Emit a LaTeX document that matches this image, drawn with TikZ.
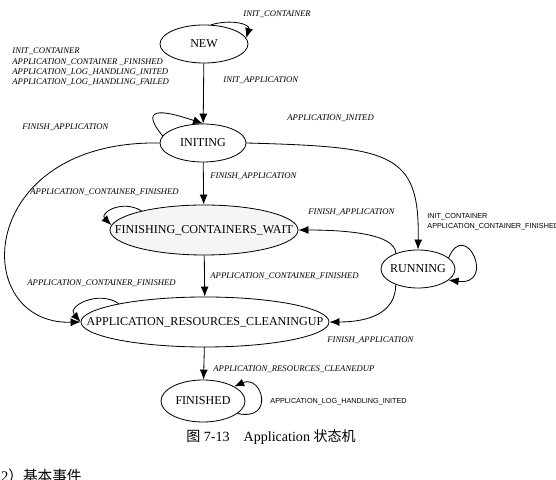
\documentclass[tikz,border=0pt]{standalone}
\usepackage{fontspec}
\setmainfont{Liberation Serif}
\setsansfont{Liberation Sans}
\newfontfamily\cjk{Noto Sans CJK SC}
\usetikzlibrary{shapes.geometric,arrows.meta}

\begin{document}
\begin{tikzpicture}[
          x=0.03cm, y=0.03cm,
          state/.style = {draw, ellipse, inner sep=0pt, font=\fontsize{10.3}{12}\selectfont},
          event/.style = {anchor=west, inner sep=0pt, align=left, font=\fontsize{7.4}{8.8}\selectfont\itshape},
          eventsf/.style = {anchor=west, inner sep=0pt, align=left, font=\fontsize{6.2}{8.4}\selectfont\sffamily},
          >={Latex[length=3mm,width=2.4mm]},
          line width=0.7pt
        ]
        \useasboundingbox (0,0) rectangle (556,480);

        \node[state, minimum width=2.64cm, minimum height=1.14cm] (new) at (204,436) {\makebox[0pt]{NEW}};
        \node[state, minimum width=2.58cm, minimum height=1.14cm] (initing) at (203,337) {\makebox[0pt]{INITING}};
        \node[state, fill=gray!8, minimum width=5.64cm, minimum height=1.5cm] (fcw) at (204,250) {\makebox[0pt]{FINISHING\_CONTAINERS\_WAIT}};
        \node[state, minimum width=2.22cm, minimum height=1.14cm] (running) at (418,211) {\makebox[0pt]{RUNNING}};
        \node[state, minimum width=7.44cm, minimum height=1.5cm] (arc) at (205,158) {\makebox[0pt]{APPLICATION\_RESOURCES\_CLEANINGUP}};
        \node[state, minimum width=2.52cm, minimum height=1.26cm] (finished) at (203,79) {\makebox[0pt]{FINISHED}};

        \draw[->] (new.70) .. controls +(20,6) and +(4,14) .. (new.8);
        \draw[->] (new) -- (initing);
        \draw[->] (initing.170) .. controls +(-28,34) and +(-30,10) .. (initing.north);
        \draw[->] (initing.west) .. controls +(-185,3) and +(-112,-3) .. (arc.west);
        \draw[->] (initing.east) .. controls +(144,-4) and +(2,98) .. (running.north);
        \draw[->] (initing) -- (fcw);
        \draw[->] (fcw.163) .. controls +(-20,12) and +(-12,12) .. (fcw.177);
        \draw[->] (running.145) .. controls +(0,20) and +(45,0) .. (fcw.east);
        \draw[->] (running.215) .. controls +(0,-28) and +(40,0) .. (arc.east);
        \draw[->] (running.20) .. controls +(17,40) and +(48,-6) .. (running.-20);
        \draw[->] (fcw) -- (arc);
        \draw[->] (arc.168) .. controls +(-20,14) and +(-14,16) .. (arc.west);
        \draw[->] (arc) -- (finished);
        \draw[->] (finished.-20) .. controls +(38,-8) and +(28,12) .. (finished.25);

        \node[event] (lnewloop) at (243,466) {INIT\_CONTAINER};
        \node[event] (lnewleft) at (12,413) {INIT\_CONTAINER\\APPLICATION\_CONTAINER \_FINISHED\\APPLICATION\_LOG\_HANDLING\_INITED\\APPLICATION\_LOG\_HANDLING\_FAILED};
        \node[event] (linit) at (223,400) {INIT\_APPLICATION};
        \node[event] (linited) at (287,362) {APPLICATION\_INITED};
        \node[event] (lfinish1) at (22,353) {FINISH\_APPLICATION};
        \node[event] (lfinish2) at (210,304) {FINISH\_APPLICATION};
        \node[event] (lcont1) at (30,288) {APPLICATION\_CONTAINER\_FINISHED};
        \node[event] (lfinish3) at (308,268) {FINISH\_APPLICATION};
        \node[eventsf] (lrunloop) at (427,258) {INIT\_CONTAINER\\APPLICATION\_CONTAINER\_FINISHED};
        \node[event] (lcont2) at (210,204) {APPLICATION\_CONTAINER\_FINISHED};
        \node[event] (lcont3) at (27,197) {APPLICATION\_CONTAINER\_FINISHED};
        \node[event] (lfinish4) at (327,140) {FINISH\_APPLICATION};
        \node[event] (lcleaned) at (213,111) {APPLICATION\_RESOURCES\_CLEANEDUP};
        \node[eventsf] (lloghand) at (270,78) {APPLICATION\_LOG\_HANDLING\_INITED};

        \node[font=\fontsize{12}{14}\selectfont] (caption) at (271,43) {{\cjk 图} 7-13\quad Application {\cjk 状态机}};
        \node[anchor=base west, inner sep=0pt, font=\fontsize{12.5}{14}\selectfont] (next) at (-14,-2) {{\cjk （}2{\cjk ）基本事件}};
      \end{tikzpicture}
\end{document}
